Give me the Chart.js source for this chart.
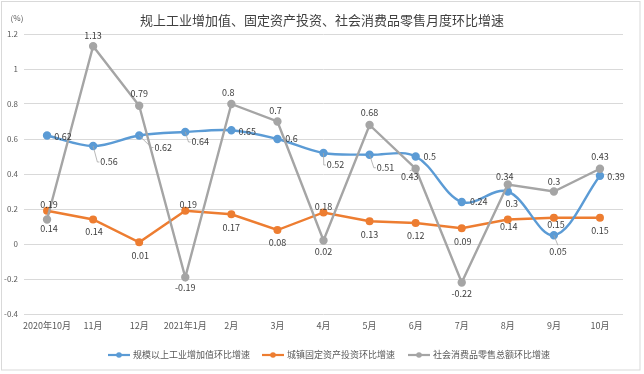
<!DOCTYPE html>
<html>
<head>
<meta charset="utf-8">
<script src="https://cdn.jsdelivr.net/npm/chart.js@4.4.1/dist/chart.umd.min.js"></script>
<style>
html,body{margin:0;padding:0;background:#fff;}
#wrap{width:644px;height:374px;position:relative;}
</style>
</head>
<body>
<div id="wrap"><canvas id="c" width="644" height="374"></canvas></div>
<script>
// ---- data ----
const categories = ['2020年10月','11月','12月','2021年1月','2月','3月','4月','5月','6月','7月','8月','9月','10月'];
const industryValues = [0.62,0.56,0.62,0.64,0.65,0.6,0.52,0.51,0.5,0.24,0.3,0.05,0.39];
const investmentValues = [0.19,0.14,0.01,0.19,0.17,0.08,0.18,0.13,0.12,0.09,0.14,0.15,0.15];
const retailValues = [0.14,1.13,0.79,-0.19,0.8,0.7,0.02,0.68,0.43,-0.22,0.34,0.3,0.43];
const seriesNames = ['规模以上工业增加值环比增速','城镇固定资产投资环比增速','社会消费品零售总额环比增速'];
const yTicks = [-0.4,-0.2,0,0.2,0.4,0.6,0.8,1,1.2];
const chartTitle = '规上工业增加值、固定资产投资、社会消费品零售月度环比增速';
const unitLabel = '(%)';

// ---- layout of data labels (pixel offsets from each point; leader flag) ----
const labelLayout = [
  [[16,1],[16,16,1],[24,12,1],[15,10,1],[16,1],[14,0],[12,12,1],[16,13,1],[14,0],[17,0],[4,12],[4,16,1],[16,1]],
  [[2,-6],[1,12],[1,13],[3,-6],[0,13],[0,13],[0,-6],[0,13],[0,13],[1,13],[1,7],[2,7],[0,13]],
  [[2,9,1],[0,-11],[0,-12],[0,10],[-3,-11],[-2,-11],[0,11],[0,-12],[-6,8,1],[0,11],[-3,-8],[0,-10],[0,-12]]
];
const colors = ['#5B9BD5','#ED7D31','#A5A5A5'];
const FONT = '"Noto Sans CJK SC","Noto Sans",sans-serif';

const decorPlugin = {
  id:'decor',
  afterDraw(chart){
    const ctx = chart.ctx;
    ctx.save();
    // outer border
    ctx.strokeStyle = '#D9D9D9'; ctx.lineWidth = 1;
    ctx.strokeRect(1.5,1.5,638.5,368.5);
    // title
    ctx.fillStyle = '#404040';
    ctx.font = '13px ' + FONT;
    ctx.textAlign = 'center'; ctx.textBaseline = 'middle';
    ctx.fillText(chartTitle, 322, 20);
    ctx.font = '8px ' + FONT;
    ctx.fillStyle = '#595959';
    ctx.fillText(unitLabel, 17, 18);
    // legend
    const items = [[108,seriesNames[0]],[262,seriesNames[1]],[408,seriesNames[2]]];
    const ly = 355;
    items.forEach((it,k)=>{
      const x0 = it[0];
      ctx.strokeStyle = colors[k]; ctx.lineWidth = 2.2;
      ctx.beginPath(); ctx.moveTo(x0,ly); ctx.lineTo(x0+22,ly); ctx.stroke();
      ctx.fillStyle = colors[k];
      ctx.beginPath(); ctx.arc(x0+11,ly,2.8,0,Math.PI*2); ctx.fill();
      ctx.fillStyle = '#595959';
      ctx.font = '9px ' + FONT;
      ctx.textAlign = 'left'; ctx.textBaseline = 'middle';
      ctx.fillText(it[1], x0+25, ly);
    });
    ctx.restore();
  },
  afterDatasetsDraw(chart){
    const ctx = chart.ctx;
    ctx.save();
    ctx.font = '9px ' + FONT;
    ctx.textAlign = 'center'; ctx.textBaseline = 'middle';
    chart.data.datasets.forEach((ds,di)=>{
      const meta = chart.getDatasetMeta(di);
      meta.data.forEach((pt,i)=>{
        const lay = labelLayout[di][i];
        const txt = String(ds.data[i]);
        const lx = pt.x + lay[0], ly = pt.y + lay[1];
        if (lay[2]) {
          const w = ctx.measureText(txt).width;
          ctx.strokeStyle = '#A6A6A6'; ctx.lineWidth = 0.8;
          ctx.beginPath();
          let ex, ey;
          if (Math.abs(lay[0]) > w/2) { ex = lx - Math.sign(lay[0])*(w/2+1); ey = ly; }
          else { ex = lx; ey = ly - Math.sign(lay[1])*6; }
          ctx.moveTo(pt.x, pt.y);
          if (Math.abs(lay[0]) > w/2 && Math.abs(lay[1])>4) { ctx.lineTo(ex-2, ey); }
          ctx.lineTo(ex, ey);
          ctx.stroke();
        }
        ctx.fillStyle = '#404040';
        ctx.fillText(txt, lx, ly);
      });
    });
    ctx.restore();
  }
};

new Chart(document.getElementById('c'), {
  type:'line',
  data:{
    labels: categories,
    datasets:[
      {label:seriesNames[0], data:industryValues, borderColor:colors[0], backgroundColor:colors[0], borderWidth:2.4, pointRadius:3, pointHoverRadius:3, tension:0.35, order:2},
      {label:seriesNames[1], data:investmentValues, borderColor:colors[1], backgroundColor:colors[1], borderWidth:2.4, pointRadius:2.8, pointHoverRadius:3, tension:0, order:3},
      {label:seriesNames[2], data:retailValues, borderColor:colors[2], backgroundColor:colors[2], borderWidth:2.4, pointRadius:3, pointHoverRadius:3, tension:0, order:1}
    ]
  },
  options:{
    responsive:false, animation:false,
    layout:{padding:{left:0,right:21,top:34,bottom:40}},
    plugins:{legend:{display:false}, title:{display:false}, tooltip:{enabled:false}},
    scales:{
      x:{
        offset:true,
        grid:{display:false, drawTicks:false},
        border:{display:false},
        ticks:{font:{size:9,family:FONT}, color:'#595959', padding:6, maxRotation:0, autoSkip:false},
        afterFit(s){ s.height = 20; }
      },
      y:{
        min:-0.4, max:1.2,
        afterBuildTicks(s){ s.ticks = yTicks.map(v=>({value:v})); },
        grid:{color:'#D9D9D9', lineWidth:1, drawTicks:false},
        border:{display:false},
        ticks:{font:{size:8,family:FONT}, color:'#595959', padding:6, callback:(v)=>String(+Number(v).toFixed(1))},
        afterFit(s){ s.width = 24; }
      }
    }
  },
  plugins:[decorPlugin]
});
</script>
</body>
</html>
